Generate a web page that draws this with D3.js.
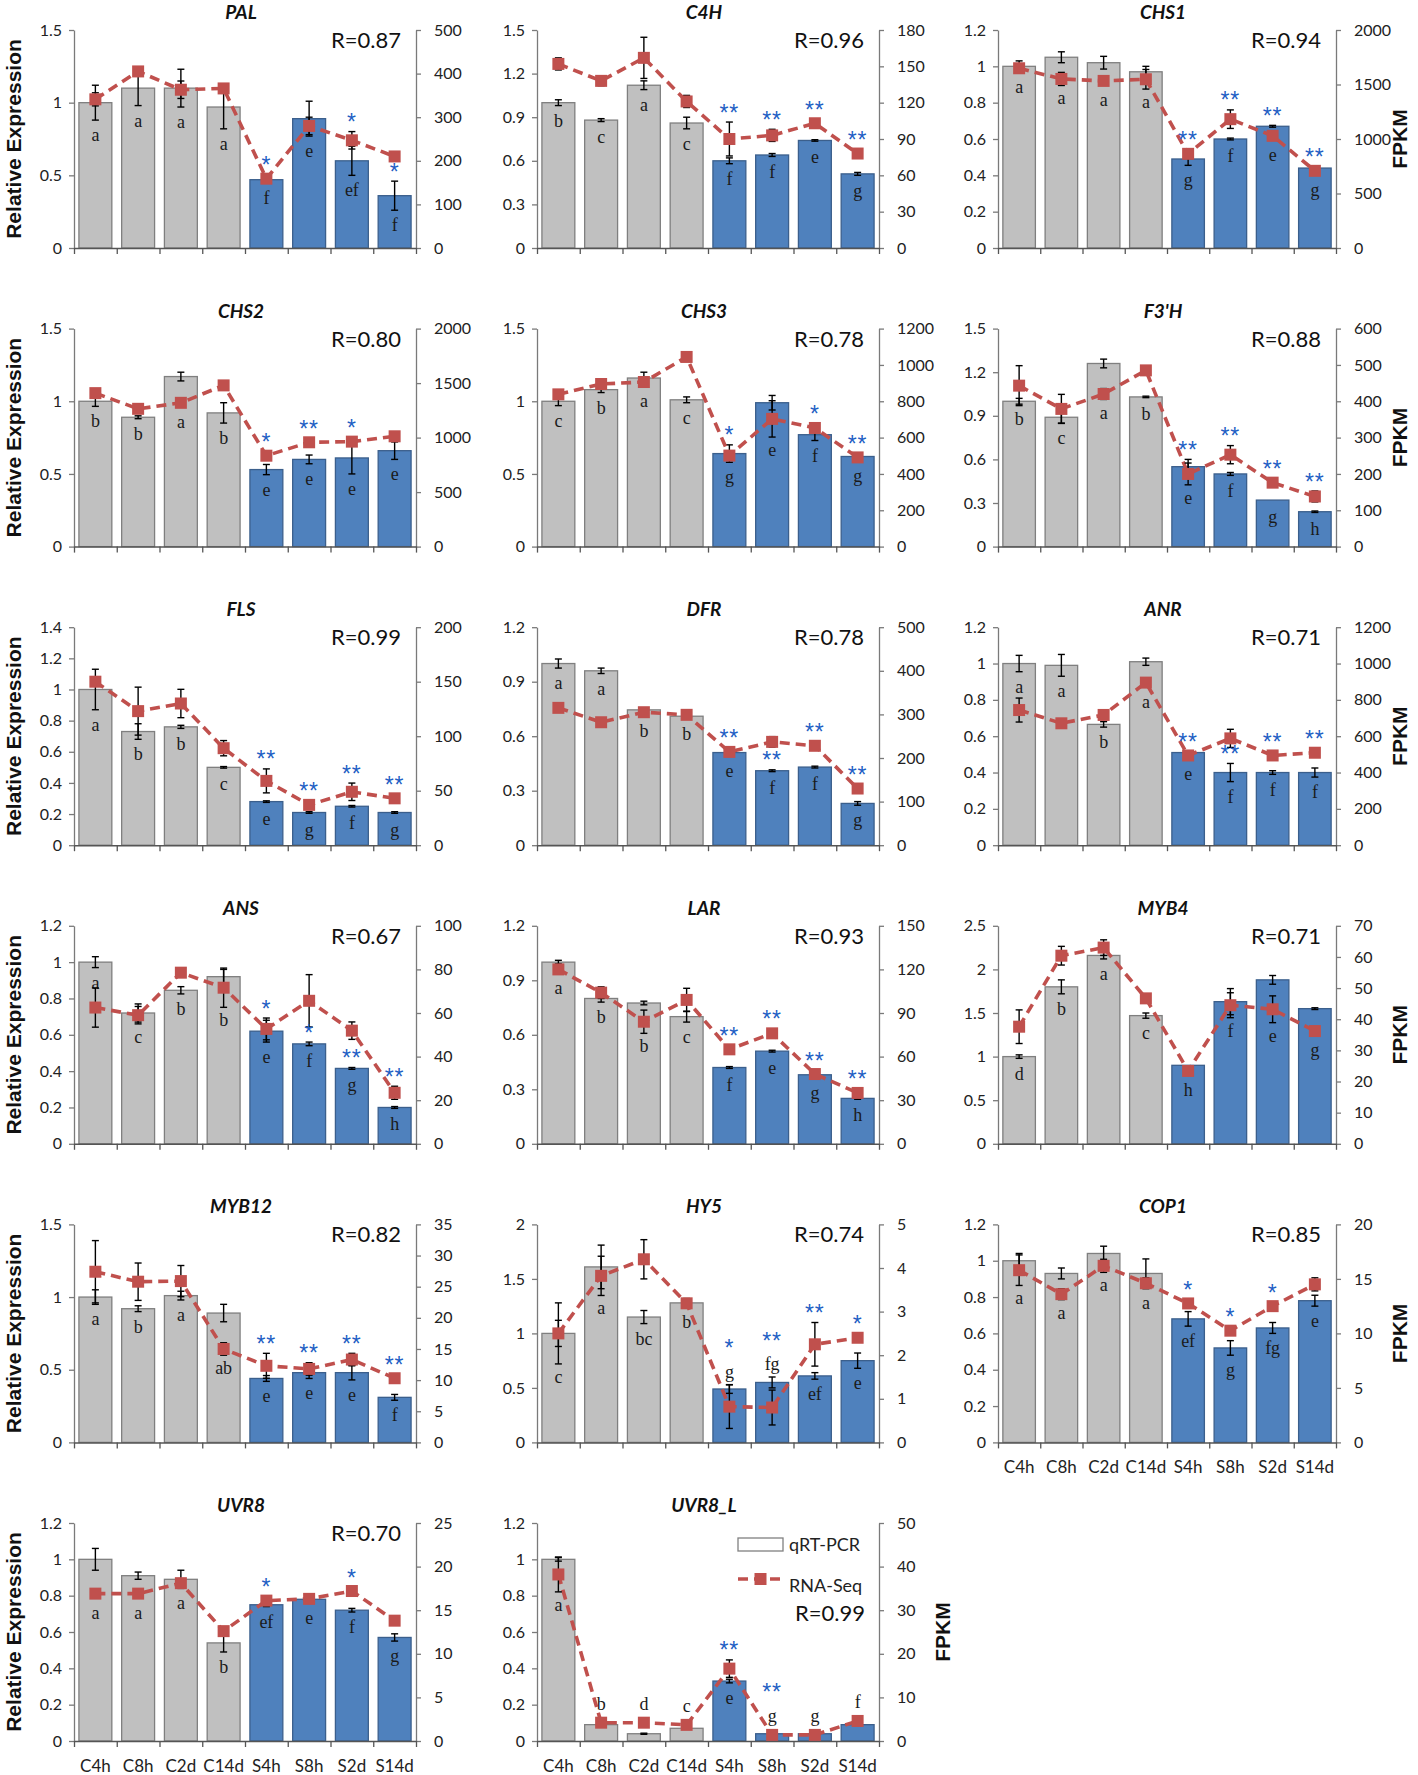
<!DOCTYPE html>
<html><head><meta charset="utf-8">
<script src="https://cdn.jsdelivr.net/npm/d3@7"></script>
<style>body{margin:0;background:#fff}</style>
</head><body>
<svg id="c" width="1418" height="1775"></svg>
<script>
const categories=["C4h","C8h","C2d","C14d","S4h","S8h","S2d","S14d"];
const genes=["PAL","C4H","CHS1","CHS2","CHS3","F3'H","FLS","DFR","ANR","ANS","LAR","MYB4","MYB12","HY5","COP1","UVR8","UVR8_L"];
const rLabels=["R=0.87","R=0.96","R=0.94","R=0.80","R=0.78","R=0.88","R=0.99","R=0.78","R=0.71","R=0.67","R=0.93","R=0.71","R=0.82","R=0.74","R=0.85","R=0.70","R=0.99"];

const leftTicks=[
 [0,0.5,1,1.5],[0,0.3,0.6,0.9,1.2,1.5],[0,0.2,0.4,0.6,0.8,1,1.2],
 [0,0.5,1,1.5],[0,0.5,1,1.5],[0,0.3,0.6,0.9,1.2,1.5],
 [0,0.2,0.4,0.6,0.8,1,1.2,1.4],[0,0.3,0.6,0.9,1.2],[0,0.2,0.4,0.6,0.8,1,1.2],
 [0,0.2,0.4,0.6,0.8,1,1.2],[0,0.3,0.6,0.9,1.2],[0,0.5,1,1.5,2,2.5],
 [0,0.5,1,1.5],[0,0.5,1,1.5,2],[0,0.2,0.4,0.6,0.8,1,1.2],
 [0,0.2,0.4,0.6,0.8,1,1.2],[0,0.2,0.4,0.6,0.8,1,1.2]
];
const rightTicks=[
 [0,100,200,300,400,500],[0,30,60,90,120,150,180],[0,500,1000,1500,2000],
 [0,500,1000,1500,2000],[0,200,400,600,800,1000,1200],[0,100,200,300,400,500,600],
 [0,50,100,150,200],[0,100,200,300,400,500],[0,200,400,600,800,1000,1200],
 [0,20,40,60,80,100],[0,30,60,90,120,150],[0,10,20,30,40,50,60,70],
 [0,5,10,15,20,25,30,35],[0,1,2,3,4,5],[0,5,10,15,20],
 [0,5,10,15,20,25],[0,10,20,30,40,50]
];

// qRT-PCR relative expression (bars)
const qpcr=[
 [1.0,1.1,1.1,0.97,0.47,0.89,0.60,0.36],
 [1.0,0.88,1.12,0.86,0.60,0.64,0.74,0.51],
 [1.0,1.05,1.02,0.97,0.49,0.60,0.67,0.44],
 [1.0,0.89,1.17,0.92,0.53,0.60,0.61,0.66],
 [1.0,1.08,1.16,1.01,0.64,0.99,0.77,0.62],
 [1.0,0.89,1.26,1.03,0.55,0.50,0.32,0.24],
 [1.0,0.73,0.76,0.50,0.28,0.21,0.25,0.21],
 [1.0,0.96,0.745,0.71,0.51,0.41,0.43,0.23],
 [1.0,0.99,0.665,1.01,0.51,0.40,0.40,0.40],
 [1.0,0.72,0.845,0.92,0.62,0.55,0.415,0.20],
 [1.0,0.80,0.775,0.70,0.42,0.51,0.38,0.25],
 [1.0,1.80,2.16,1.47,0.90,1.63,1.88,1.55],
 [1.0,0.92,1.01,0.89,0.44,0.48,0.48,0.31],
 [1.0,1.61,1.15,1.28,0.49,0.55,0.61,0.75],
 [1.0,0.93,1.04,0.93,0.68,0.52,0.63,0.78],
 [1.0,0.91,0.89,0.54,0.75,0.78,0.72,0.57],
 [1.0,0.09,0.04,0.07,0.33,0.04,0.04,0.09]
];
const qpcrErr=[
 [0.12,0.12,0.13,0.15,0.01,0.12,0.1,0.1],
 [0.02,0.01,0.03,0.04,0.02,0.01,0.005,0.01],
 [0.03,0.03,0.035,0.03,0.035,0.005,0.005,0.005],
 [0.035,0.01,0.03,0.07,0.035,0.03,0.11,0.06],
 [0.03,0.02,0.04,0.02,0.06,0.05,0.04,0.005],
 [0.02,0.04,0.03,0.005,0.05,0.01,0,0.005],
 [0.13,0.05,0.01,0.005,0.005,0.005,0.005,0.005],
 [0.025,0.015,0.005,0.005,0.005,0.005,0.005,0.01],
 [0.045,0.06,0.015,0.02,0,0.05,0.01,0.025],
 [0.03,0.05,0.02,0.04,0.06,0.01,0.005,0.005],
 [0.01,0.02,0.01,0.03,0.005,0.005,0.005,0.005],
 [0.02,0.08,0.04,0.03,0,0.15,0.05,0.01],
 [0.05,0.02,0.03,0.06,0.02,0.04,0.05,0.02],
 [0.12,0.2,0.06,0.04,0.04,0.05,0.03,0.07],
 [0.04,0.03,0.04,0.08,0.04,0.04,0.03,0.03],
 [0.06,0.02,0.05,0.05,0.01,0.005,0.01,0.02],
 [0.01,0.003,0.003,0.003,0.01,0.003,0.003,0.003]
];
// RNA-Seq FPKM (line)
const fpkm=[
 [341,405,363,366,159,280,247,210],
 [152,138,157,121,90,93,103,78],
 [1649,1551,1533,1548,864,1182,1029,708],
 [1408,1264,1319,1479,834,957,963,1012],
 [838,895,906,1044,501,703,653,491],
 [443,379,420,485,200,253,176,138],
 [150,123,130,89,59,37,49,43],
 [315,282,305,299,214,237,228,130],
 [744,671,717,895,494,588,494,509],
 [62.5,59,78.5,71.6,52.7,65.6,51.9,23.4],
 [120,104,84,99,65,76,48,35],
 [37.6,60.4,63,46.7,23.4,44.5,43.2,36.2],
 [27.4,25.8,25.9,15,12.3,11.8,13.3,10.3],
 [2.5,3.82,4.2,3.19,0.82,0.80,2.25,2.40],
 [15.8,13.6,16.2,14.6,12.75,10.25,12.5,14.5],
 [16.9,16.9,18.1,12.6,16.1,16.3,17.2,13.8],
 [38.2,4.2,4.2,3.7,16.6,1.4,1.4,4.6]
];
const fpkmErr=[
 [15,5,20,10,5,20,20,5],
 [5,4,17,5,14,5,3,3],
 [40,60,20,90,40,85,40,20],
 [30,20,30,40,30,20,30,20],
 [15,20,20,15,20,100,20,15],
 [55,40,15,10,30,25,10,15],
 [3,22,13,7,11,3,8,3],
 [5,5,5,5,5,12,5,5],
 [66,20,20,15,10,50,10,10],
 [9,4,1,9,5,12,4,3],
 [2,4,8,8,2,3,2,2],
 [5.4,3,2.5,1,0.5,4,4.3,0.5],
 [5,3,2.5,1,2,1,1,0.5],
 [0.7,0.45,0.45,0.1,0.5,0.4,0.5,0.1],
 [1.4,0.5,0.6,0.5,0.3,0.3,0.3,0.6],
 [0.3,0.3,0.3,0.3,0.3,0.3,0.3,0.3],
 [4,0.5,0.5,0.5,2,0.3,0.3,0.5]
];
const letters=[
 ["a","a","a","a","f","e","ef","f"],
 ["b","c","a","c","f","f","e","g"],
 ["a","a","a","a","g","f","e","g"],
 ["b","b","a","b","e","e","e","e"],
 ["c","b","a","c","g","e","f","g"],
 ["b","c","a","b","e","f","g","h"],
 ["a","b","b","c","e","g","f","g"],
 ["a","a","b","b","e","f","f","g"],
 ["a","a","b","a","e","f","f","f"],
 ["a","c","b","b","e","f","g","h"],
 ["a","b","b","c","f","e","g","h"],
 ["d","b","a","c","h","f","e","g"],
 ["a","b","a","ab","e","e","e","f"],
 ["c","a","bc","b","g","fg","ef","e"],
 ["a","a","a","a","ef","g","fg","e"],
 ["a","a","a","b","ef","e","f","g"],
 ["a","b","d","c","e","g","g","f"]
];
const stars=[
 ["","","","","*","","*","*"],
 ["","","","","**","**","**","**"],
 ["","","","","**","**","**","**"],
 ["","","","","*","**","*",""],
 ["","","","","*","","*","**"],
 ["","","","","**","**","**","**"],
 ["","","","","**","**","**","**"],
 ["","","","","**","**","**","**"],
 ["","","","","**","**","**","**"],
 ["","","","","*","*","**","**"],
 ["","","","","**","**","**","**"],
 ["","","","","","","",""],
 ["","","","","**","**","**","**"],
 ["","","","","*","**","**","*"],
 ["","","","","*","*","*",""],
 ["","","","","*","","*",""],
 ["","","","","**","**","",""]
];
// annotation placement: [gene index, category index]
const starsBelowLine=[[0,7],[7,5],[8,5],[9,5],[9,6]];
const lettersAbove=[[13,4],[13,5],[16,1],[16,2],[16,3],[16,5],[16,6],[16,7]];
const legendLabels=["qRT-PCR","RNA-Seq"];

const svg=d3.select("#c");
const colX=[[74,416],[537,879],[998,1336]];
const RED="#C0504D", BLUE="#4F81BD", GREY="#C0C0C0", STAR="#1F5FC4";
const SANS="Lato, 'Open Sans', sans-serif";
const has=(arr,k,i)=>arr.some(p=>p[0]===k&&p[1]===i);

function styleAxis(g){
  g.attr("font-family",SANS).attr("font-size",16);
  g.select(".domain").attr("stroke","#7a7a7a").attr("stroke-width",1.3);
  g.selectAll(".tick line").attr("stroke","#7a7a7a").attr("stroke-width",1.3);
  g.selectAll(".tick text").attr("fill","#222");
}

function drawPanel(k){
  const row=Math.floor(k/3), col=k%3;
  const x0=colX[col][0], x1=colX[col][1];
  const y0=30+298.6*row, y1=y0+218;
  const g=svg.append("g");
  const x=d3.scaleBand().domain(categories).range([x0,x1]).paddingInner(0.23).paddingOuter(0.115);
  const lt=leftTicks[k], rt=rightTicks[k];
  const yl=d3.scaleLinear().domain([0,lt[lt.length-1]]).range([y1,y0]);
  const yr=d3.scaleLinear().domain([0,rt[rt.length-1]]).range([y1,y0]);
  const data=categories.map((c,i)=>({c,i,q:qpcr[k][i],qe:qpcrErr[k][i],f:fpkm[k][i],fe:fpkmErr[k][i],l:letters[k][i],s:stars[k][i]}));

  // axes
  const ga=g.append("g").attr("transform",`translate(${x0},0)`)
    .call(d3.axisLeft(yl).tickValues(lt).tickSize(5).tickPadding(7).tickSizeOuter(0).tickFormat(d=>String(d)));
  styleAxis(ga);
  const gr=g.append("g").attr("transform",`translate(${x1},0)`)
    .call(d3.axisRight(yr).tickValues(rt).tickSize(5).tickPadding(13).tickSizeOuter(0).tickFormat(d=>String(d)));
  styleAxis(gr);

  // bars
  g.selectAll("rect.bar").data(data).join("rect")
    .attr("x",d=>x(d.c)).attr("width",x.bandwidth())
    .attr("y",d=>yl(d.q)).attr("height",d=>y1-yl(d.q))
    .attr("fill",d=>d.i<4?GREY:BLUE)
    .attr("stroke",d=>d.i<4?"#7f7f7f":"#3b5f8c").attr("stroke-width",1.3);

  // bottom axis with ticks at category boundaries
  const xb=d3.scaleLinear().domain([0,8]).range([x0,x1]);
  const gb=g.append("g").attr("transform",`translate(0,${y1})`)
    .call(d3.axisBottom(xb).tickValues(d3.range(9)).tickSize(6).tickSizeOuter(0).tickFormat(""));
  gb.select(".domain").attr("stroke","#555").attr("stroke-width",1.5);
  gb.selectAll(".tick line").attr("stroke","#555").attr("stroke-width",1.3);

  if(k>=14){
    const gx=g.append("g").attr("transform",`translate(0,${y1})`)
      .call(d3.axisBottom(x).tickSize(0).tickPadding(19));
    gx.select(".domain").remove();
    gx.attr("font-family",SANS).attr("font-size",17);
    gx.selectAll("text").attr("fill","#222");
  }

  const cx=d=>x(d.c)+x.bandwidth()/2;
  function errBar(sel,yfun){
    sel.append("line").attr("x1",cx).attr("x2",cx).attr("y1",d=>yfun(d,1)).attr("y2",d=>yfun(d,-1));
    sel.append("line").attr("x1",d=>cx(d)-3.5).attr("x2",d=>cx(d)+3.5).attr("y1",d=>yfun(d,1)).attr("y2",d=>yfun(d,1));
    sel.append("line").attr("x1",d=>cx(d)-3.5).attr("x2",d=>cx(d)+3.5).attr("y1",d=>yfun(d,-1)).attr("y2",d=>yfun(d,-1));
  }
  // bar error bars
  const eb=g.append("g").attr("stroke","#000").attr("stroke-width",1.4)
    .selectAll("g").data(data.filter(d=>d.qe>0)).join("g");
  errBar(eb,(d,s)=>yl(d.q+s*d.qe));

  // letters
  const letterY=d=>{
    if(has(lettersAbove,k,d.i)){
      const top=Math.min(yl(d.q+d.qe),yr(d.f+d.fe),yr(d.f)-6);
      return top-12;
    }
    let yy=Math.max(yl(d.q-d.qe)+16,yl(d.q)+18);
    const dm=yr(d.f)-yl(d.q);
    if(dm>-10&&dm<40){
      const lb=Math.max(yr(d.f-d.fe),yr(d.f)+6);
      yy=Math.max(yy,lb+14);
    }
    return yy;
  };
  g.selectAll("text.let").data(data).join("text")
    .attr("x",cx).attr("y",d=>letterY(d)+5)
    .attr("text-anchor","middle").attr("font-family","'Liberation Serif', 'DejaVu Serif', serif")
    .attr("font-size",18).attr("fill","#1a1a1a").text(d=>d.l);

  // RNA-seq line
  g.append("path").datum(data)
    .attr("d",d3.line().x(cx).y(d=>yr(d.f)))
    .attr("fill","none").attr("stroke",RED).attr("stroke-width",3.6).attr("stroke-dasharray","10,6");
  const el=g.append("g").attr("stroke","#000").attr("stroke-width",1.4)
    .selectAll("g").data(data.filter(d=>d.fe>0)).join("g");
  errBar(el,(d,s)=>yr(d.f+s*d.fe));
  g.selectAll("rect.mk").data(data).join("rect")
    .attr("x",d=>cx(d)-6).attr("y",d=>yr(d.f)-6).attr("width",12).attr("height",12)
    .attr("fill",RED);

  // stars
  const starY=d=>{
    if(has(lettersAbove,k,d.i)) return letterY(d)-30;
    let top=yl(d.q+d.qe)-2;
    if(!has(starsBelowLine,k,d.i)) top=Math.min(top,yr(d.f+d.fe)-2,yr(d.f)-6);
    return top-13;
  };
  g.selectAll("text.st").data(data.filter(d=>d.s)).join("text")
    .attr("x",cx).attr("y",d=>starY(d)+13.5)
    .attr("text-anchor","middle").attr("font-family","'Liberation Sans', Arial, sans-serif")
    .attr("font-size",23).attr("letter-spacing",1).attr("fill",STAR).text(d=>d.s);

  // title
  g.append("text").attr("x",(x0+x1)/2-4).attr("y",y0-11).attr("text-anchor","middle")
    .attr("font-family",SANS).attr("font-weight",700).attr("font-style","italic")
    .attr("font-size",19).attr("fill","#111").text(genes[k]);

  // correlation + legend
  if(k===16){
    const lx=x0+201, ly=y0+15;
    const lg=g.append("g");
    lg.append("rect").attr("x",lx).attr("y",ly).attr("width",45).attr("height",13)
      .attr("fill","#fff").attr("stroke","#808080").attr("stroke-width",1.3);
    lg.append("line").attr("x1",lx).attr("x2",lx+45).attr("y1",ly+41).attr("y2",ly+41)
      .attr("stroke",RED).attr("stroke-width",3.6).attr("stroke-dasharray","10,6");
    lg.append("rect").attr("x",lx+16.5).attr("y",ly+35).attr("width",12).attr("height",12).attr("fill",RED);
    lg.selectAll("text").data(legendLabels).join("text")
      .attr("x",lx+51).attr("y",(d,i)=>ly+13+i*41)
      .attr("font-family",SANS).attr("font-size",18).attr("fill","#222").text(d=>d);
    g.append("text").attr("x",x1-14).attr("y",y0+98).attr("text-anchor","end")
      .attr("font-family",SANS).attr("font-size",22).attr("fill","#111").text(rLabels[k]);
  } else {
    g.append("text").attr("x",x1-15).attr("y",y0+18).attr("text-anchor","end")
      .attr("font-family",SANS).attr("font-size",22).attr("fill","#111").text(rLabels[k]);
  }

  if(col===0){
    g.append("text").attr("transform",`translate(21,${(y0+y1)/2}) rotate(-90)`)
      .attr("text-anchor","middle").attr("font-family","'Liberation Sans', Arial, sans-serif")
      .attr("font-weight",700).attr("font-size",21).attr("fill","#111").text("Relative Expression");
  }
  if(col===2||k===16){
    g.append("text").attr("transform",`translate(${x1+71},${(y0+y1)/2}) rotate(-90)`)
      .attr("text-anchor","middle").attr("font-family","'Liberation Sans', Arial, sans-serif")
      .attr("font-weight",700).attr("font-size",21).attr("fill","#111").text("FPKM");
  }
}
genes.forEach((_,k)=>drawPanel(k));
</script>
</body></html>
